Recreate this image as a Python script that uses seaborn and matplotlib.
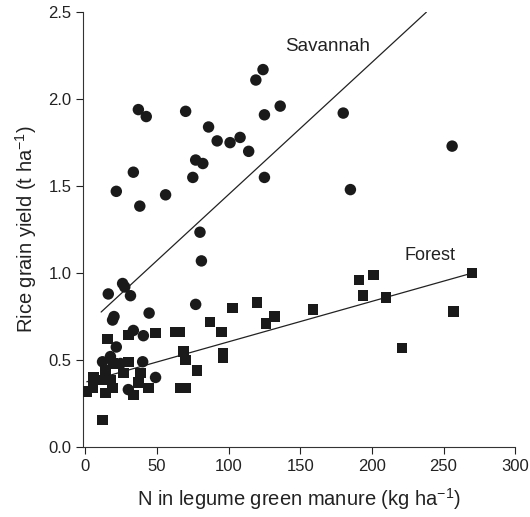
import matplotlib
matplotlib.use("Agg")
import matplotlib.pyplot as plt
import seaborn as sns
import pandas as pd

# %%
# Savannah sites (circles)
savannah_n = [124, 119, 37, 42.5, 70, 136, 125, 86, 92, 101, 108, 114, 77, 82,
              75, 125, 33.5, 21.6, 56, 38, 80, 180, 256, 185, 81, 16, 26, 27.5,
              31.5, 77, 19, 20, 44.5, 33.5, 40.5, 21.6, 40, 49, 30, 12, 17.5, 24.5]
savannah_yield = [2.17, 2.11, 1.94, 1.90, 1.93, 1.96, 1.91, 1.84, 1.76, 1.75, 1.78,
                  1.70, 1.65, 1.63, 1.55, 1.55, 1.58, 1.47, 1.45, 1.385, 1.235, 1.92,
                  1.73, 1.48, 1.07, 0.88, 0.94, 0.92, 0.87, 0.82, 0.73, 0.75, 0.77,
                  0.67, 0.64, 0.575, 0.49, 0.40, 0.33, 0.49, 0.52, 0.48]

# Forest sites (squares)
forest_n = [1, 5.5, 5.6, 12, 14, 10.5, 17.5, 14, 19.5, 19, 26.5, 30, 15.5, 30, 49,
            38.5, 37, 44, 33.5, 63, 65.6, 68.5, 70, 66, 70, 78, 87, 95, 96, 96,
            102.6, 120, 126, 132, 159, 191, 201, 194, 210, 270, 257, 221]
forest_yield = [0.32, 0.34, 0.40, 0.155, 0.31, 0.385, 0.385, 0.44, 0.48, 0.34, 0.425,
                0.49, 0.62, 0.645, 0.655, 0.425, 0.37, 0.34, 0.30, 0.66, 0.66, 0.55,
                0.50, 0.34, 0.34, 0.44, 0.72, 0.66, 0.54, 0.51, 0.80, 0.83, 0.71,
                0.75, 0.79, 0.96, 0.99, 0.87, 0.86, 1.00, 0.78, 0.57]

# regression lines as drawn (end points)
savannah_fit_n = [11, 238]
savannah_fit_yield = [0.776, 2.5]
forest_fit_n = [1, 270]
forest_fit_yield = [0.375, 1.0]

# %%
sns.set_style("ticks")
plt.rcParams["font.family"] = ["Liberation Sans", "DejaVu Sans"]
plt.rcParams["mathtext.fontset"] = "custom"
plt.rcParams["mathtext.rm"] = "Liberation Sans"
plt.rcParams["mathtext.default"] = "regular"

fig = plt.figure(figsize=(5.3, 5.17), dpi=100)
ax = fig.add_axes([0.157, 0.1354, 0.815, 0.841])

savannah = pd.DataFrame({"n": savannah_n, "y": savannah_yield})
forest = pd.DataFrame({"n": forest_n, "y": forest_yield})

sns.scatterplot(data=savannah, x="n", y="y", marker="o", s=68, color="#1a1a1a",
                edgecolor="none", ax=ax, zorder=3)
sns.scatterplot(data=forest, x="n", y="y", marker="s", s=56, color="#1a1a1a",
                edgecolor="none", ax=ax, zorder=3)
sns.lineplot(x=savannah_fit_n, y=savannah_fit_yield, color="#222222", lw=0.9, ax=ax)
sns.lineplot(x=forest_fit_n, y=forest_fit_yield, color="#222222", lw=0.9, ax=ax)

ax.text(139.5, 2.30, "Savannah", fontsize=13.5, color="#222222", va="center")
ax.text(223, 1.10, "Forest", fontsize=13, color="#222222", va="center")

ax.set_xlim(-1.5, 300)
ax.set_ylim(0, 2.5)
ax.set_xticks([0, 50, 100, 150, 200, 250, 300])
ax.set_yticks([0.0, 0.5, 1.0, 1.5, 2.0, 2.5])
ax.set_yticklabels(["0.0", "0.5", "1.0", "1.5", "2.0", "2.5"])
ax.tick_params(labelsize=12, colors="#222222", length=5, width=0.8)
ax.set_xlabel("N in legume green manure (kg ha$^{−1}$)", fontsize=14.5,
              color="#222222", labelpad=9)
ax.set_ylabel("Rice grain yield (t ha$^{−1}$)", fontsize=14.5, color="#222222",
              labelpad=7)
for side in ["left", "bottom"]:
    ax.spines[side].set_color("#333333")
    ax.spines[side].set_linewidth(0.8)
sns.despine(ax=ax)

fig.savefig("out.png", dpi=100)
